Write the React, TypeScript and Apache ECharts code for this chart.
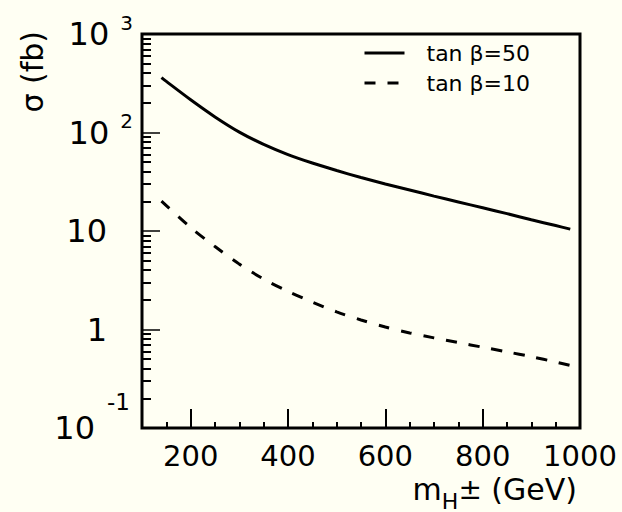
import { useEffect, useRef } from "react";
import * as echarts from "echarts";

// Charged Higgs production cross section versus mass
const massGeV = [140, 150, 200, 250, 300, 350, 400, 450, 500, 550, 600, 650, 700, 750, 800, 850, 900, 950, 980];
const sigmaTanB50 = [361, 330, 215, 144, 101, 75.7, 59.7, 49.0, 41.1, 34.9, 30.0, 26.1, 22.6, 19.7, 17.2, 15.0, 13.0, 11.35, 10.45];
const sigmaTanB10 = [20.1, 18.1, 10.84, 6.95, 4.61, 3.25, 2.44, 1.9, 1.51, 1.25, 1.06, 0.923, 0.822, 0.736, 0.661, 0.593, 0.53, 0.468, 0.431];
const seriesNames = ["tan β=50", "tan β=10"];

const xLabelValues = [200, 400, 600, 800, 1000];
const yDecades = [0.1, 1, 10, 100, 1000];
const yTickBase = ["10", "1", "10", "10", "10"];
const yTickExp = ["-1", "", "", "2", "3"];
const yMinorSteps = [2, 3, 4, 5, 6, 7, 8, 9];

const FONT = "DejaVu Sans";
const BG = "#fffff3";
const INK = "#000000";

export default function App() {
  const ref = useRef<HTMLDivElement>(null);

  useEffect(() => {
    const chart = echarts.init(ref.current!, null, { renderer: "svg" });

    const minorY: number[] = [];
    for (let i = 0; i < yDecades.length - 1; i++) {
      for (const k of yMinorSteps) minorY.push(+(yDecades[i] * k).toPrecision(3));
    }
    const pairs = (ys: number[]) => massGeV.map((m, i) => [m, ys[i]]);

    const yLabel = (v: number) => {
      const i = yDecades.findIndex((d) => Math.abs(Math.log10(d) - Math.log10(v)) < 1e-6);
      if (i < 0) return "";
      const exp = yTickExp[i];
      if (!exp) return `{p|${yTickBase[i]}}`;
      return `{b|${yTickBase[i]}}{${exp.startsWith("-") ? "n" : "s"}|${exp}}`;
    };

    chart.setOption({
      animation: false,
      backgroundColor: BG,
      textStyle: { fontFamily: FONT, color: INK },
      grid: {
        left: 142,
        top: 34,
        right: 42,
        bottom: 83,
        show: true,
        borderColor: INK,
        borderWidth: 3,
        backgroundColor: "transparent",
        containLabel: false,
      },
      legend: {
        orient: "vertical",
        left: 363,
        top: 38,
        padding: 0,
        itemWidth: 40,
        itemHeight: 14,
        itemGap: 0,
        itemStyle: { opacity: 0 },
        lineStyle: { width: 3 },
        textStyle: {
          fontFamily: FONT,
          fontSize: 22,
          color: INK,
          lineHeight: 30,
          padding: [0, 0, 0, 17],
        },
        data: seriesNames,
      },
      xAxis: [
        {
          type: "value",
          min: 100,
          max: 1000,
          interval: 50,
          position: "bottom",
          axisLine: { show: false, onZero: false },
          splitLine: { show: false },
          axisTick: { show: true, inside: true, length: 6, lineStyle: { color: INK, width: 2 } },
          axisLabel: { show: false },
          name: "{m|m}{h|H}{pm|±}{g| (GeV)}",
          nameLocation: "end",
          nameGap: -3,
          nameTextStyle: {
            align: "right",
            verticalAlign: "top",
            padding: [38, 0, 0, 0],
            rich: {
              m: { fontFamily: FONT, fontSize: 30, color: INK },
              h: { fontFamily: FONT, fontSize: 22, color: INK, padding: [24, 0, 0, 0] },
              pm: { fontFamily: FONT, fontSize: 28, color: INK },
              g: { fontFamily: FONT, fontSize: 30, color: INK },
            },
          },
        },
        {
          type: "value",
          min: 100,
          max: 1000,
          position: "bottom",
          axisLine: { show: false, onZero: false },
          splitLine: { show: false },
          axisTick: {
            show: true,
            inside: true,
            length: 19,
            customValues: xLabelValues,
            lineStyle: { color: INK, width: 2 },
          },
          axisLabel: {
            show: true,
            customValues: xLabelValues,
            formatter: (v: number) => String(v),
            margin: 13,
            fontFamily: FONT,
            fontSize: 29,
            color: INK,
          },
        },
      ],
      yAxis: [
        {
          type: "log",
          logBase: 10,
          min: 0.1,
          max: 1000,
          position: "left",
          axisLine: { show: false, onZero: false },
          splitLine: { show: false },
          axisTick: { show: true, inside: true, length: 18, lineStyle: { color: INK, width: 1.5 } },
          axisLabel: {
            show: true,
            margin: 9,
            formatter: yLabel,
            rich: {
              p: { fontFamily: FONT, fontSize: 32, color: INK, padding: [0, 26, 0, 0] },
              b: { fontFamily: FONT, fontSize: 32, color: INK },
              s: { fontFamily: FONT, fontSize: 20, color: INK, padding: [0, 0, 23, 11] },
              n: { fontFamily: FONT, fontSize: 23, color: INK, padding: [0, 3, 52, 12] },
            },
          },
          name: "σ (fb)",
          nameLocation: "end",
          nameRotate: 90,
          nameGap: 3,
          nameTextStyle: {
            fontFamily: FONT,
            fontSize: 30,
            color: INK,
            align: "right",
            verticalAlign: "bottom",
            padding: [0, 0, 95, 0],
          },
        },
        {
          type: "log",
          logBase: 10,
          min: 0.1,
          max: 1000,
          position: "left",
          axisLine: { show: false, onZero: false },
          splitLine: { show: false },
          axisTick: {
            show: true,
            inside: true,
            length: 9,
            customValues: minorY,
            lineStyle: { color: INK, width: 2 },
          },
          axisLabel: { show: false },
        },
      ],
      series: [
        {
          name: seriesNames[0],
          type: "line",
          xAxisIndex: 0,
          yAxisIndex: 0,
          data: pairs(sigmaTanB50),
          symbol: "none",
          smooth: 0.3,
          itemStyle: { color: INK },
          lineStyle: { color: INK, width: 3, type: "solid" },
        },
        {
          name: seriesNames[1],
          type: "line",
          xAxisIndex: 0,
          yAxisIndex: 0,
          data: pairs(sigmaTanB10),
          symbol: "none",
          smooth: 0.3,
          itemStyle: { color: INK },
          lineStyle: { color: INK, width: 3, type: [11, 12] },
        },
      ],
    });

    return () => chart.dispose();
  }, []);

  return (
    <div
      ref={ref}
      style={{ position: "fixed", left: 0, top: 0, width: 622, height: 512, background: BG }}
    />
  );
}
